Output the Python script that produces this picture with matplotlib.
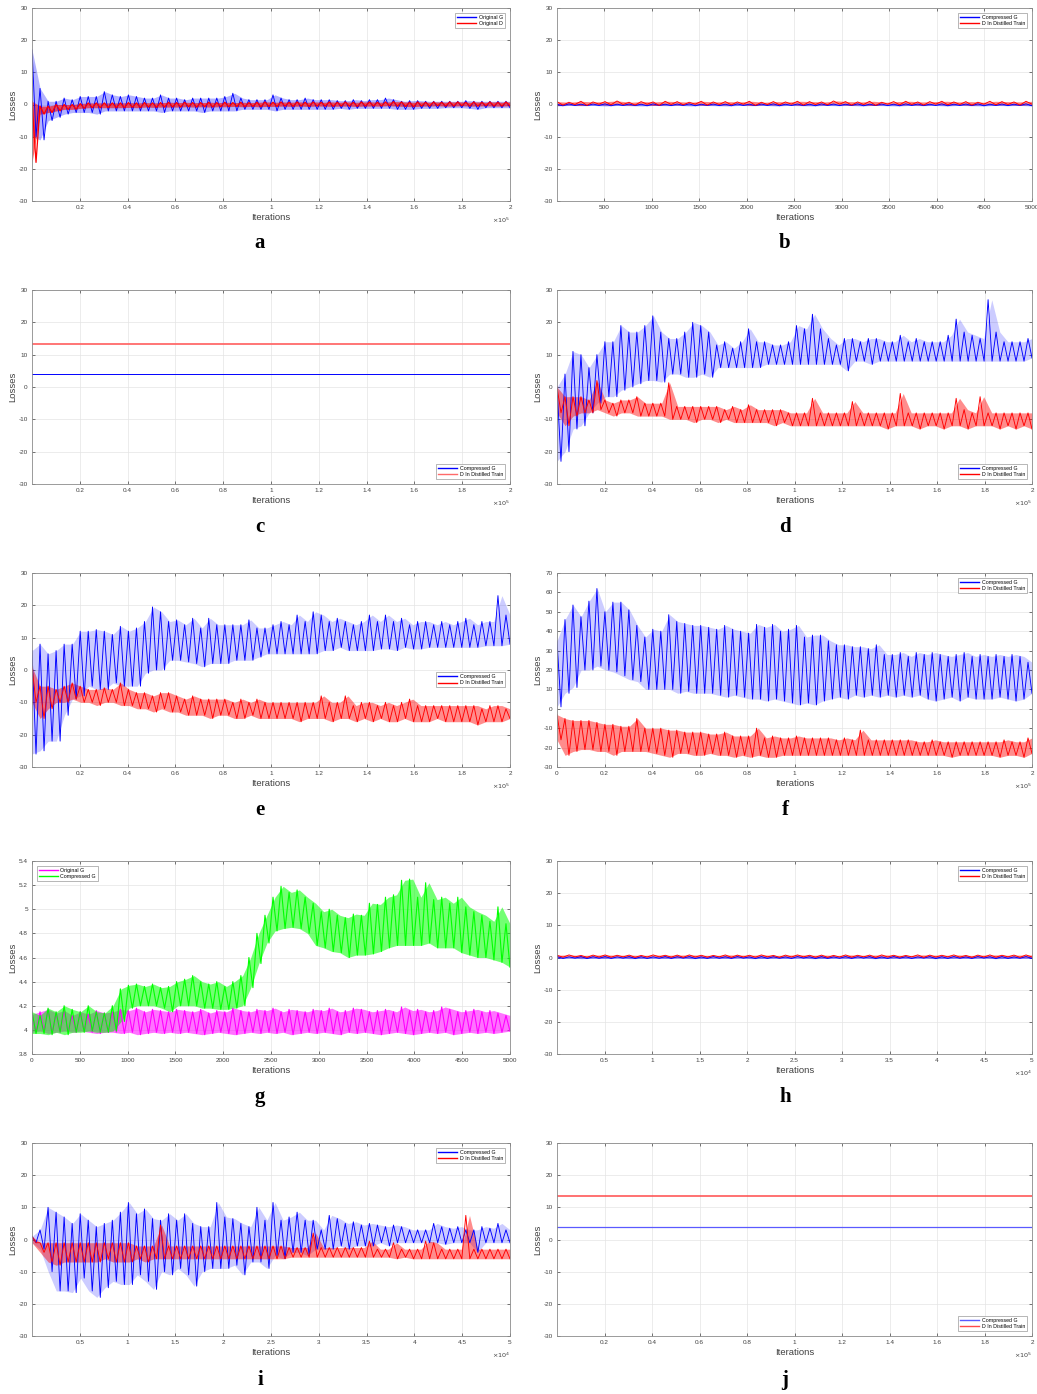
import numpy as np
import matplotlib.pyplot as plt
from matplotlib.ticker import FuncFormatter

# ---- data: per-bin upper / lower values of each noisy loss curve ----
# panel a (0 .. 2e5 iterations)
a_g_hi = [17, 5, 1, 1, 2, 1.5, 2.5, 2.5, 2.5, 4, 3, 2.5, 3, 2.5, 2, 2, 3, 2, 2, 1.5, 2, 2, 2, 2,
          2.5, 3.5, 2, 1.5, 1.5, 1.5, 3, 2, 1.5, 1.5, 2, 1.5, 1.5, 1.5, 1.2, 1.2, 1.5, 1.2,
          1.5, 1.5, 2, 1.5, 1, 1.2, 1.2, 1, 1, 1, 1, 1, 1.2, 1, 1, 1, 1, 1]
a_g_lo = [-10, -11, -5, -4, -3, -2.5, -2.5, -2.5, -3, -2, -2, -2, -2, -2, -2, -2, -2.5, -2,
          -2, -2, -2, -2.5, -2, -2, -2, -2, -1.5, -1.5, -1.5, -1.5, -2, -1.5, -1.5, -1.5, -1.5, -1.5,
          -1.5, -1.5, -1.2, -1.5, -1.2, -1.2, -1.2, -1.2, -1.2, -1.5, -1.5, -1.5, -1.2, -1.2, -1.2, -1,
          -1, -1, -1.2, -1.5, -1, -1, -1, -1]
a_d_hi = [1, -0.5, -0.5, 0, 0, 0, 0.3, 0.5, 0.5, 0.5, 0.5, 0.5, 0.6, 0.5, 0.6, 0.5, 0.6, 0.7,
          0.6, 0.7, 0.6, 0.6, 0.7, 0.6, 0.7, 0.6, 0.7, 0.6, 0.7, 0.8, 0.7, 0.8, 0.7, 0.8, 0.7, 0.8,
          0.7, 0.8, 0.7, 0.8, 0.7, 0.8, 0.8, 0.7, 0.8, 0.9, 0.8, 0.7, 0.8, 0.7, 0.8, 0.7, 0.8, 0.8,
          0.7, 0.8, 0.7, 0.8, 0.7, 0.8]
a_d_lo = [-18, -3, -2.5, -2, -1.5, -1.5, -1.2, -1, -1, -1, -1, -1, -0.9, -1, -0.8, -0.9, -0.8,
          -0.8, -0.8, -0.7, -0.8, -0.7, -0.8, -0.7, -0.7, -0.6, -0.7, -0.6, -0.7, -0.6, -0.6, -0.5,
          -0.6, -0.5, -0.6, -0.5, -0.5, -0.6, -0.5, -0.5, -0.6, -0.5, -0.5, -0.5, -0.4, -0.5, -0.6,
          -0.7, -0.5, -0.5, -0.4, -0.5, -0.5, -0.4, -0.5, -0.5, -0.4, -0.5, -0.5, -0.4]

# panel b (0 .. 5000 iterations)
b_g_hi = [0.1, 0.2, 0.1, 0.15, 0.2, 0.1, 0.15, 0.1, 0.2, 0.1, 0.15, 0.2, 0.1, 0.15, 0.1, 0.2,
          0.1, 0.15, 0.2, 0.1, 0.15, 0.1, 0.2, 0.15, 0.1, 0.2, 0.1, 0.15, 0.1, 0.2, 0.15, 0.1,
          0.2, 0.1, 0.15, 0.2, 0.1, 0.15, 0.1, 0.2]
b_g_lo = [-0.4, -0.3, -0.35, -0.3, -0.4, -0.3, -0.35, -0.4, -0.3, -0.35, -0.3, -0.4, -0.3,
          -0.35, -0.4, -0.3, -0.35, -0.3, -0.4, -0.3, -0.35, -0.4, -0.3, -0.35, -0.3, -0.4, -0.3,
          -0.35, -0.4, -0.3, -0.35, -0.3, -0.4, -0.3, -0.35, -0.4, -0.3, -0.35, -0.3, -0.4]
b_d_hi = [0.9, 0.7, 1.0, 0.8, 0.9, 1.1, 0.7, 0.9, 0.8, 1.0, 0.9, 0.7, 1.0, 0.8, 0.9, 0.8, 1.0,
          0.7, 0.9, 0.8, 1.0, 0.9, 0.8, 1.1, 0.9, 0.8, 1.0, 0.7, 0.9, 1.0, 0.8, 0.9, 1.0, 0.8, 0.9,
          0.7, 1.0, 0.9, 0.8, 1.0]
b_d_lo = [-0.2, 0.0, -0.3, 0.1, -0.1, 0.0, -0.2, 0.1, -0.3, 0.0, -0.1, 0.1, -0.2, 0.0, -0.1,
          0.1, -0.3, 0.0, -0.1, 0.1, -0.2, 0.0, -0.1, 0.1, -0.2, 0.0, -0.3, 0.1, -0.1, 0.0, -0.2,
          0.1, -0.1, 0.0, -0.2, 0.1, -0.1, 0.0, -0.2, 0.1]

# panels c and j: constant levels
c_g_level = 4.0
c_d_level = 13.3
j_g_level = 4.0
j_d_level = 13.4

# panel d (0 .. 2e5)
d_g_hi = [0, 4, 11, 10, 6, 10, 14, 14, 19, 17, 17, 19, 22, 17, 15, 15, 17, 20, 19, 17, 13, 14,
          12, 14, 18, 14, 14, 13, 13, 14, 19, 18, 22.5, 18, 15, 13, 15, 15, 14, 15, 15, 14, 14, 16,
          14, 15, 14, 14, 14, 16, 21, 17, 16, 15, 27, 17, 14, 14, 14, 15]
d_g_lo = [-23, -20, -13, -12, -8, -5, -3, -3, -1, 0, 1, 2, 2, 1.5, 4, 4, 3, 3, 4, 3, 6, 6, 6, 6,
          6, 6, 7, 7, 7, 7, 7, 7, 7, 7, 7, 7, 5, 8, 8, 7, 8, 8, 8, 8, 8, 8, 8, 8, 8, 8, 8, 8, 8, 8,
          8, 8, 8, 8, 8, 9]
d_d_hi = [0, -3, -3, -3, -4, 2, -4, -5, -4, -4, -3, -5, -5, -5, 1.3, -6, -6, -6, -6, -6, -6, -7,
          -6, -7, -5.5, -7, -7, -7, -7, -8, -8, -8, -3.5, -8, -8, -8, -8, -4.5, -8, -8, -8, -8, -8,
          -2, -8, -8, -8, -8, -8, -8, -3.5, -7, -8, -3, -8, -8, -8, -8, -8, -8]
d_d_lo = [-8, -12, -9, -8, -8, -7, -8, -9, -8, -8, -9, -9, -9, -9, -10, -10, -10, -11, -10, -10,
          -11, -10, -11, -11, -11, -11, -11, -12, -11, -12, -12, -12, -12, -12, -12, -12, -12, -12,
          -12, -12, -12, -13, -12, -12, -12, -13, -12, -12, -13, -12, -12, -13, -12, -12, -12, -13,
          -12, -13, -12, -13]

# panel e (0 .. 2e5)
e_g_hi = [6, 8, 5, 6, 8, 8, 12, 12, 12.5, 12, 11, 13.5, 12, 13, 15, 19.5, 18, 15, 15.5, 14, 16,
          13, 16, 14, 14, 14, 14, 15.5, 13, 13, 14, 15, 14, 17, 15, 18, 17, 15, 16, 15, 14, 15, 17,
          15, 17, 15, 16, 14, 15, 15, 14, 15, 14, 15, 16, 14, 15, 15, 23, 17]
e_g_lo = [-26, -25, -22, -22, -14, -9, -8, -5, -6, -6, -4, -5, -5, -5, -1, 0, 0, 3, 3, 2.5, 2, 1,
          2, 2, 2, 3, 3, 3, 4, 5, 5, 5, 5, 5, 5, 5, 6, 6, 7, 6, 6, 6, 6, 6.5, 6.5, 6, 7, 6.5, 6.5,
          7, 7, 7, 7, 7, 7, 7, 7.5, 7.5, 7.5, 8]
e_d_hi = [1, -5, -5, -6, -5, -4, -5, -6, -6, -5.5, -6, -4, -6, -7, -7, -8, -7, -7, -8, -9, -8,
          -9, -9, -9, -9, -10, -9, -10, -9, -10, -10, -10, -10, -10, -10, -10, -8, -10, -10, -8, -11,
          -10, -10, -11, -10, -11, -10, -9, -11, -11, -11, -11, -11, -11, -11, -11, -12, -11, -11,
          -12]
e_d_lo = [-10, -15, -12, -10, -10, -9, -10, -10, -11, -10, -10, -11, -11, -12, -12, -13, -12,
          -13, -13, -14, -14, -14, -15, -14, -14, -15, -15, -14, -15, -15, -15, -15, -15, -16, -15,
          -15, -15, -16, -15, -15, -16, -15, -16, -15, -16, -16, -15, -16, -16, -16, -15, -16, -16,
          -16, -16, -17, -16, -16, -16, -15]

# panel f (0 .. 2e5)
f_g_hi = [35, 46, 53.5, 47.5, 55.5, 62, 50, 55, 55, 51, 43, 37, 41, 40, 48.5, 45, 44, 43, 43,
          42, 41, 43, 41, 40, 39, 43.5, 42, 43.5, 40, 41, 43, 37, 38, 38, 35, 33, 33, 32, 32, 31,
          33, 28, 28, 29, 27, 29, 28, 29, 28, 27, 28, 29, 27, 28, 27, 28, 27, 28, 27, 24]
f_g_lo = [1, 8, 11, 20, 20, 22, 20, 19, 17, 15, 14, 10, 10, 10, 10, 8, 9, 8, 8, 8, 7, 6, 7, 6,
          5, 5, 4, 5, 4, 3, 2, 3, 2, 4, 5, 6, 5, 7, 6, 7, 6, 7, 6, 7, 6, 7, 5, 4, 5, 6, 4, 6, 5, 5,
          5, 6, 5, 4, 5, 8]
f_d_hi = [-3, -5, -6, -6, -6, -7, -8, -8, -9, -9, -5, -10, -10, -10, -11, -11, -12, -12, -12,
          -13, -13, -12, -14, -14, -14, -10, -15, -14, -15, -15, -14, -15, -15, -15, -15, -16, -15,
          -16, -11, -16, -16, -16, -16, -16, -16, -17, -17, -16, -17, -17, -17, -17, -17, -17, -17,
          -17, -16, -17, -17, -15]
f_d_lo = [-16, -24, -22, -21, -21, -22, -22, -24, -22, -22, -22, -22, -23, -24, -25, -23, -23,
          -24, -24, -23, -24, -24, -25, -24, -25, -24, -25, -25, -24, -24, -24, -24, -24, -24, -24,
          -24, -24, -24, -24, -24, -24, -24, -24, -24, -24, -24, -24, -24, -24, -25, -24, -24, -24,
          -24, -24, -25, -24, -24, -25, -23]

# panel g (0 .. 5000)
g_o_hi = [4.13, 4.15, 4.17, 4.14, 4.16, 4.12, 4.15, 4.13, 4.16, 4.14, 4.15, 4.17, 4.16, 4.18,
          4.15, 4.17, 4.16, 4.15, 4.17, 4.16, 4.15, 4.17, 4.14, 4.16, 4.15, 4.18, 4.16, 4.15, 4.17,
          4.16, 4.18, 4.15, 4.17, 4.16, 4.15, 4.17, 4.16, 4.18, 4.15, 4.16, 4.18, 4.17, 4.15, 4.16,
          4.17, 4.15, 4.19, 4.16, 4.17, 4.15, 4.16, 4.19, 4.17, 4.15, 4.16, 4.17, 4.15, 4.16, 4.14,
          4.12]
g_o_lo = [3.98, 3.99, 3.97, 3.98, 3.99, 3.98, 3.99, 3.98, 3.97, 3.98, 3.98, 3.97, 3.98, 3.96,
          3.97, 3.98, 3.97, 3.98, 3.97, 3.98, 3.97, 3.96, 3.97, 3.98, 3.97, 3.96, 3.97, 3.98, 3.97,
          3.98, 3.97, 3.98, 3.96, 3.97, 3.98, 3.97, 3.98, 3.97, 3.96, 3.98, 3.97, 3.98, 3.97, 3.96,
          3.97, 3.98, 3.97, 3.96, 3.97, 3.98, 3.97, 3.98, 3.96, 3.97, 3.98, 3.97, 3.98, 3.97, 3.98,
          3.99]
g_c_hi = [4.15, 4.12, 4.18, 4.15, 4.2, 4.17, 4.15, 4.2, 4.15, 4.14, 4.2, 4.34, 4.37, 4.38, 4.36,
          4.38, 4.35, 4.36, 4.4, 4.42, 4.45, 4.4, 4.38, 4.4, 4.36, 4.4, 4.45, 4.6, 4.8, 4.95, 5.1,
          5.19, 5.14, 5.16, 5.1, 5.05, 4.98, 5.0, 4.95, 4.93, 4.96, 4.95, 5.05, 5.04, 5.1, 5.12,
          5.24, 5.25, 5.1, 5.22, 5.08, 5.1, 5.05, 5.1, 5.02, 4.98, 4.95, 4.9, 5.02, 4.88]
g_c_lo = [3.97, 3.97, 3.96, 3.98, 3.96, 3.98, 3.98, 3.99, 3.98, 3.98, 3.99, 4.07, 4.18, 4.2,
          4.2, 4.2, 4.18, 4.15, 4.2, 4.2, 4.2, 4.18, 4.18, 4.17, 4.17, 4.18, 4.2, 4.35, 4.55, 4.72,
          4.82, 4.84, 4.85, 4.84, 4.8, 4.7, 4.68, 4.65, 4.64, 4.6, 4.62, 4.62, 4.63, 4.65, 4.68,
          4.7, 4.7, 4.7, 4.7, 4.72, 4.68, 4.68, 4.68, 4.64, 4.62, 4.6, 4.6, 4.58, 4.56, 4.52]

# panel h (0 .. 5e4)
h_g_hi = [0.3, 0.2, 0.3, 0.25, 0.3, 0.2, 0.3, 0.25, 0.2, 0.3, 0.25, 0.3, 0.2, 0.3, 0.25, 0.3,
          0.2, 0.3, 0.25, 0.2, 0.3, 0.25, 0.3, 0.2, 0.3, 0.25, 0.3, 0.2, 0.3, 0.25, 0.2, 0.3, 0.25,
          0.3, 0.2, 0.3, 0.25, 0.3, 0.2, 0.3]
h_g_lo = [-0.3, -0.2, -0.35, -0.25, -0.3, -0.2, -0.35, -0.3, -0.25, -0.3, -0.2, -0.35, -0.3,
          -0.25, -0.3, -0.2, -0.35, -0.3, -0.25, -0.3, -0.2, -0.35, -0.3, -0.25, -0.3, -0.2, -0.35,
          -0.3, -0.25, -0.3, -0.2, -0.35, -0.3, -0.25, -0.3, -0.2, -0.35, -0.3, -0.25, -0.3]
h_d_hi = [0.7, 0.8, 0.65, 0.75, 0.8, 0.7, 0.75, 0.65, 0.8, 0.7, 0.75, 0.8, 0.7, 0.65, 0.8, 0.75,
          0.7, 0.8, 0.65, 0.75, 0.8, 0.7, 0.75, 0.65, 0.8, 0.7, 0.75, 0.8, 0.7, 0.65, 0.8, 0.75,
          0.7, 0.8, 0.65, 0.75, 0.8, 0.7, 0.75, 0.8]
h_d_lo = [0.1, 0.2, 0.05, 0.15, 0.1, 0.2, 0.05, 0.15, 0.2, 0.1, 0.05, 0.15, 0.1, 0.2, 0.05, 0.15,
          0.1, 0.2, 0.05, 0.15, 0.2, 0.1, 0.05, 0.15, 0.1, 0.2, 0.05, 0.15, 0.1, 0.2, 0.05, 0.15,
          0.2, 0.1, 0.05, 0.15, 0.1, 0.2, 0.05, 0.15]

# panel i (0 .. 5e4)
i_g_hi = [1, 3, 10, 8.5, 7, 5, 8, 6, 4, 5, 6, 8.5, 11.5, 8, 9.5, 6.5, 6, 8, 6, 8, 5, 4, 4, 11.5,
          7, 6.5, 5, 4, 10, 6, 11.5, 6, 7, 8.5, 6, 6, 3, 7.5, 6.5, 5, 5.5, 4.5, 5, 4.5, 4, 4.5, 4,
          3, 3, 3, 5, 4, 3.5, 4, 3, 3, 4, 3.5, 5, 3]
i_g_lo = [-1, -3, -10, -16, -16, -16.5, -12, -16, -18, -15, -13, -14, -14, -11, -13, -15.5, -10,
          -11, -9, -11, -14.5, -10, -9, -9, -9, -8, -11, -7, -7, -9, -5, -6, -4, -4, -5, -3, -3,
          -3, -2, -3, -2, -2, -2, -1, -2, -1, -1, -1, -1, -1, -1, -1.5, -1, -1, -1, -4, -1, -1,
          -1, -1]
i_d_hi = [1, -1, -1, -1, -1, -1, -1, -1, -1, -1, -1, -1, -1, -2, -2, -2, 4.5, -2, -2, -2, -2,
          -2, -2, -2, -2, -2, -2, -2, -2, -2, -2, -2, -2.5, -2.5, -2.5, 2, -2.5, -2.5, -2.5, -2.5,
          -2.5, -2.5, -0.5, -3, -3, -1, -3, -3, -3, -0.5, -1, -3, -3, -3, 7.5, -3, -3, -3, -3, -3]
i_d_lo = [-1, -4, -7, -8, -7, -7, -7, -7, -7, -6, -7, -7, -7, -6, -7, -6, -6, -6, -6, -6, -6,
          -6, -6, -6, -6, -6, -6, -6, -6, -6, -6, -6, -5.5, -5.5, -5.5, -5.5, -5.5, -5.5, -5.5,
          -5.5, -5.5, -5.5, -5.5, -5.5, -5.5, -6, -5.5, -6, -6, -6, -6, -6, -6, -6, -6, -6, -6, -6,
          -6, -6]

BLUE, RED, GREEN, MAGENTA = '#0000ff', '#ff0000', '#00ff00', '#ff00ff'
FW, FH = 1037, 1394
COL_X = [(32, 478), (557, 475)]
ROWS = [(8, 201), (290, 484), (573, 767), (861, 1054), (1143, 1336)]
LETTER_Y = [243, 527, 810, 1097, 1380]

plt.rcParams['font.family'] = ['Liberation Sans', 'DejaVu Sans']


def zigzag(hi, lo, xmax):
    y = np.column_stack([hi, lo]).ravel()
    x = np.linspace(0, xmax, len(y))
    return x, y


def noisy(ax, hi, lo, xmax, color, label, lw=0.65, alpha=0.2):
    # light band between the read upper / lower values, plus the spiky trace
    xb = np.linspace(0, xmax, len(hi))
    ax.fill_between(xb, lo, hi, color=color, alpha=alpha, lw=0)
    ax.plot(*zigzag(hi, lo, xmax), color=color, lw=lw, label=label)


def make_axes(fig, col, row, xmax, xticks, scale, ylim, yticks, xmin=0):
    x0, w = COL_X[col]
    top, bot = ROWS[row]
    ax = fig.add_axes([x0 / FW, 1 - bot / FH, w / FW, (bot - top) / FH])
    ax.set_xlim(xmin, xmax)
    ax.set_ylim(*ylim)
    ax.set_xticks(xticks)
    ax.set_yticks(yticks)
    ax.xaxis.set_major_formatter(FuncFormatter(lambda v, p: f'{v / scale:g}'))
    ax.yaxis.set_major_formatter(FuncFormatter(lambda v, p: f'{v:g}'))
    ax.tick_params(direction='in', length=2.5, width=0.5, labelsize=4.6, colors='#404040',
                   top=True, right=True, pad=3)
    for s in ax.spines.values():
        s.set_color('#8a8a8a')
        s.set_linewidth(0.6)
    ax.grid(True, color='#e4e4e4', linewidth=0.5)
    ax.set_axisbelow(True)
    ax.set_xlabel('Iterations', fontsize=6.8, color='#404040', labelpad=2)
    ax.set_ylabel('Losses', fontsize=6.8, color='#404040', labelpad=1)
    if scale != 1:
        exp = int(round(np.log10(scale)))
        ax.text(1.0, -0.075, r'$\times10^{%d}$' % exp, transform=ax.transAxes,
                ha='right', va='top', fontsize=4.6, color='#404040')
    return ax


def add_legend(ax, **kw):
    leg = ax.legend(fontsize=3.8, handlelength=3.6, handletextpad=0.5, borderpad=0.4,
                    labelspacing=0.25, fancybox=False, framealpha=1, edgecolor='#9a9a9a', **kw)
    leg.get_frame().set_linewidth(0.5)
    for line in leg.get_lines():
        line.set_linewidth(1.0)
    return leg


fig = plt.figure(figsize=(FW / 100, FH / 100), dpi=100)
loss_y = (-30, 30)
loss_ticks = np.arange(-30, 31, 10)
tick_2e5 = np.arange(0.2e5, 2.01e5, 0.2e5)
tick_5e4 = np.arange(0.5e4, 5.01e4, 0.5e4)

# a
ax = make_axes(fig, 0, 0, 2e5, tick_2e5, 1e5, loss_y, loss_ticks)
noisy(ax, a_g_hi, a_g_lo, 2e5, BLUE, 'Original G', alpha=0.3)
noisy(ax, a_d_hi, a_d_lo, 2e5, RED, 'Original D', lw=0.9, alpha=0.6)
add_legend(ax, loc='upper right', borderaxespad=0.9)

# b
ax = make_axes(fig, 1, 0, 5000, np.arange(500, 5001, 500), 1, loss_y, loss_ticks, xmin=1)
noisy(ax, b_g_hi, b_g_lo, 5000, BLUE, 'Compressed G', alpha=0.5)
noisy(ax, b_d_hi, b_d_lo, 5000, RED, 'D In Distilled Train', alpha=0.5)
add_legend(ax, loc='upper right', borderaxespad=0.9)

# c
ax = make_axes(fig, 0, 1, 2e5, tick_2e5, 1e5, loss_y, loss_ticks)
ax.plot([0, 2e5], [c_g_level, c_g_level], color=BLUE, lw=0.7, label='Compressed G')
ax.plot([0, 2e5], [c_d_level, c_d_level], color='#ff6a6a', lw=1.3, label='D In Distilled Train')
add_legend(ax, loc='lower right', borderaxespad=0.9)

# d
ax = make_axes(fig, 1, 1, 2e5, tick_2e5, 1e5, loss_y, loss_ticks)
noisy(ax, d_g_hi, d_g_lo, 2e5, BLUE, 'Compressed G')
noisy(ax, d_d_hi, d_d_lo, 2e5, RED, 'D In Distilled Train', alpha=0.45)
add_legend(ax, loc='lower right', borderaxespad=0.9)

# e
ax = make_axes(fig, 0, 2, 2e5, tick_2e5, 1e5, loss_y, loss_ticks)
noisy(ax, e_g_hi, e_g_lo, 2e5, BLUE, 'Compressed G')
noisy(ax, e_d_hi, e_d_lo, 2e5, RED, 'D In Distilled Train', alpha=0.45)
add_legend(ax, loc='upper right', bbox_to_anchor=(0.99, 0.49), borderaxespad=0)

# f
ax = make_axes(fig, 1, 2, 2e5, np.arange(0, 2.01e5, 0.2e5), 1e5, (-30, 70), np.arange(-30, 71, 10))
noisy(ax, f_g_hi, f_g_lo, 2e5, BLUE, 'Compressed G')
noisy(ax, f_d_hi, f_d_lo, 2e5, RED, 'D In Distilled Train', alpha=0.45)
add_legend(ax, loc='upper right', borderaxespad=0.9)

# g
ax = make_axes(fig, 0, 3, 5000, np.arange(0, 5001, 500), 1, (3.8, 5.4), np.arange(3.8, 5.41, 0.2))
noisy(ax, g_o_hi, g_o_lo, 5000, MAGENTA, 'Original G', lw=0.8, alpha=0.55)
noisy(ax, g_c_hi, g_c_lo, 5000, GREEN, 'Compressed G', lw=0.8, alpha=0.55)
add_legend(ax, loc='upper left', borderaxespad=0.9)

# h
ax = make_axes(fig, 1, 3, 5e4, tick_5e4, 1e4, loss_y, loss_ticks)
noisy(ax, h_g_hi, h_g_lo, 5e4, BLUE, 'Compressed G', alpha=0.5)
noisy(ax, h_d_hi, h_d_lo, 5e4, RED, 'D In Distilled Train', alpha=0.5)
add_legend(ax, loc='upper right', borderaxespad=0.9)

# i
ax = make_axes(fig, 0, 4, 5e4, tick_5e4, 1e4, loss_y, loss_ticks)
noisy(ax, i_g_hi, i_g_lo, 5e4, BLUE, 'Compressed G')
noisy(ax, i_d_hi, i_d_lo, 5e4, RED, 'D In Distilled Train', alpha=0.45)
add_legend(ax, loc='upper right', borderaxespad=0.9)

# j
ax = make_axes(fig, 1, 4, 2e5, tick_2e5, 1e5, loss_y, loss_ticks)
ax.plot([0, 2e5], [j_g_level, j_g_level], color='#5a5aff', lw=0.9, label='Compressed G')
ax.plot([0, 2e5], [j_d_level, j_d_level], color='#ff4a4a', lw=1.1, label='D In Distilled Train')
add_legend(ax, loc='lower right', borderaxespad=0.9)

# panel letters
for k, letter in enumerate('abcdefghij'):
    cx = 260 if k % 2 == 0 else 785
    fig.text(cx / FW, 1 - LETTER_Y[k // 2] / FH, letter, ha='center', va='center',
             fontsize=15, fontweight='bold', family='Liberation Serif')

fig.savefig('out.png', dpi=100)
